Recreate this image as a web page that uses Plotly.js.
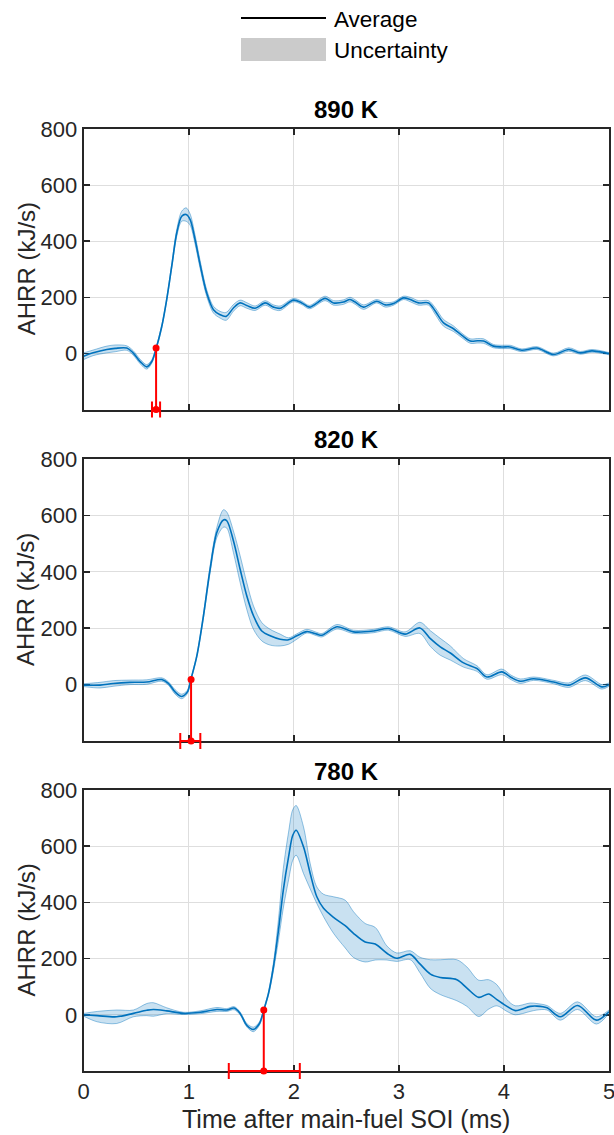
<!DOCTYPE html>
<html>
<head>
<meta charset="utf-8">
<script src="https://cdn.plot.ly/plotly-3.0.1.min.js"></script>
<style>
  html, body { margin: 0; padding: 0; background: #ffffff; }
  #chart { width: 614px; height: 1135px; }
</style>
</head>
<body>
<div id="chart"></div>
<script>
// Apparent heat-release rate (AHRR) after the main-fuel start of injection,
// averaged over repeated runs, at three ambient temperatures.

// ---- 890 K ----
const time890 = [0, 0.09, 0.22, 0.30, 0.41, 0.47, 0.54, 0.60, 0.648, 0.689, 0.743, 0.79, 0.838, 0.886, 0.933, 0.975, 1.013, 1.06, 1.108, 1.171, 1.235, 1.298, 1.356, 1.425, 1.489, 1.552, 1.632, 1.727, 1.806, 1.87, 1.997, 2.076, 2.149, 2.298, 2.378, 2.473, 2.535, 2.584, 2.663, 2.79, 2.87, 2.95, 3.044, 3.108, 3.187, 3.283, 3.346, 3.425, 3.52, 3.6, 3.68, 3.75, 3.806, 3.9, 3.98, 4.06, 4.17, 4.314, 4.473, 4.616, 4.727, 4.838, 5.0];
const avg890 = [-10, 2, 14, 18, 19, 2, -30, -48, -29, 17, 96, 192, 311, 430, 489, 495, 477, 406, 317, 215, 156, 138, 132, 162, 180, 171, 161, 180, 165, 161, 190, 180, 165, 196, 180, 183, 192, 183, 165, 186, 173, 178, 198, 192, 180, 180, 151, 109, 88, 64, 44, 45, 44, 26, 23, 23, 11, 19, -4, 14, 2, 9, -1];
const hi890 = [2, 12, 26, 30, 27, 10, -22, -40, -23, 22, 101, 198, 319, 442, 507, 519, 497, 422, 331, 227, 168, 150, 146, 174, 190, 181, 169, 188, 173, 169, 196, 186, 171, 204, 188, 191, 200, 191, 173, 192, 181, 184, 204, 200, 188, 188, 163, 121, 98, 72, 52, 53, 52, 32, 29, 29, 16, 24, 1, 20, 7, 14, 3];
const lo890 = [-22, -8, 2, 6, 11, -6, -38, -56, -35, 12, 91, 186, 303, 418, 471, 471, 457, 390, 303, 203, 144, 126, 118, 150, 170, 161, 153, 172, 157, 153, 184, 174, 159, 188, 172, 175, 184, 175, 157, 180, 165, 172, 192, 184, 172, 172, 139, 97, 78, 56, 36, 37, 36, 20, 17, 17, 6, 14, -9, 8, -3, 4, -5];

// ---- 820 K ----
const time820 = [0, 0.156, 0.28, 0.44, 0.6, 0.743, 0.806, 0.87, 0.933, 0.987, 1.019, 1.076, 1.14, 1.203, 1.267, 1.33, 1.362, 1.425, 1.489, 1.552, 1.616, 1.695, 1.775, 1.87, 1.95, 2.029, 2.124, 2.219, 2.267, 2.41, 2.568, 2.76, 2.9, 3.06, 3.2, 3.3, 3.394, 3.49, 3.616, 3.743, 3.838, 3.98, 4.07, 4.156, 4.283, 4.473, 4.616, 4.775, 4.933, 5.0];
const avg820 = [-2, -2, 4, 8, 9, 18, 4, -26, -42, -26, 17, 100, 244, 409, 539, 584, 581, 510, 409, 315, 244, 190, 173, 161, 159, 173, 188, 179, 175, 205, 187, 190, 199, 179, 201, 163, 134, 112, 77, 57, 27, 45, 25, 12, 21, 9, -2, 24, -8, 0];
const hi820 = [3, 8, 14, 16, 17, 24, 10, -18, -34, -20, 21, 105, 252, 421, 557, 620, 612, 545, 457, 362, 279, 220, 196, 179, 166, 180, 196, 185, 181, 213, 193, 196, 205, 187, 221, 191, 164, 137, 92, 67, 35, 55, 33, 20, 27, 15, 6, 34, 0, 6];
const lo820 = [-7, -12, -6, 0, 1, 12, -2, -34, -50, -32, 13, 95, 236, 397, 521, 558, 555, 468, 362, 267, 196, 155, 140, 137, 143, 161, 183, 173, 169, 197, 181, 184, 193, 171, 181, 135, 104, 87, 62, 47, 19, 35, 17, 4, 15, 3, -10, 14, -16, -6];

// ---- 780 K ----
const time780 = [0, 0.13, 0.314, 0.473, 0.6, 0.663, 0.79, 0.95, 1.108, 1.267, 1.362, 1.432, 1.489, 1.552, 1.616, 1.673, 1.714, 1.759, 1.806, 1.854, 1.9, 1.95, 1.99, 2.022, 2.092, 2.156, 2.219, 2.283, 2.378, 2.489, 2.568, 2.679, 2.775, 2.886, 2.98, 3.108, 3.2, 3.3, 3.394, 3.552, 3.648, 3.76, 3.854, 3.933, 4.029, 4.108, 4.25, 4.314, 4.41, 4.536, 4.7, 4.88, 5.0];
const avg780 = [0, -3, -7, 5, 16, 19, 14, 5, 9, 19, 17, 24, 5, -37, -52, -31, 17, 76, 171, 301, 444, 562, 639, 657, 598, 503, 420, 379, 347, 317, 290, 259, 252, 219, 201, 215, 181, 145, 133, 125, 95, 62, 74, 54, 30, 15, 30, 31, 25, -7, 33, -19, 11];
const hi780 = [5, 12, 17, 17, 40, 43, 25, 9, 14, 26, 22, 29, 10, -31, -44, -25, 21, 82, 185, 340, 520, 650, 730, 745, 669, 538, 455, 429, 420, 408, 367, 325, 311, 245, 220, 228, 205, 196, 196, 196, 170, 123, 125, 107, 54, 32, 42, 40, 33, 5, 46, -7, 17];
const lo780 = [-5, -25, -31, -7, -3, -5, 4, 1, 4, 12, 12, 18, 0, -43, -60, -37, 13, 70, 157, 265, 380, 480, 550, 568, 503, 448, 396, 349, 290, 238, 204, 188, 195, 195, 190, 196, 150, 94, 72, 50, 30, -6, 20, 32, 12, 0, 12, 17, 17, -19, 19, -33, 5];

// Ignition: time, AHRR at ignition, and the time spread (min / max)
const panelTitles = ['890 K', '820 K', '780 K'];
const ignTime  = [0.689, 1.022, 1.714];
const ignValue = [19, 18, 17];
const ignLow   = [0.650, 0.919, 1.381];
const ignHigh  = [0.727, 1.110, 2.057];

const xTicks = [0, 1, 2, 3, 4, 5];
const yTicks = [0, 200, 400, 600, 800];
const xRange = [0, 5];
const yRange = [-200, 800];

const series = [
  { t: time890, avg: avg890, hi: hi890, lo: lo890 },
  { t: time820, avg: avg820, hi: hi820, lo: lo820 },
  { t: time780, avg: avg780, hi: hi780, lo: lo780 }
];

const FONT = 'Liberation Sans, Arial, Helvetica, sans-serif';
const AX = '#262626';
const BLUE = '#0072BD';
const EDGE = 'rgba(0,114,189,0.42)';
const FILL = 'rgba(0,114,189,0.21)';
const RED = '#ff0000';

const W = 614, H = 1135;
const xDomain = [83.7 / W, 609 / W];
// panel [top, bottom] in pixels
const panelPx = [[129, 409.5], [459, 741], [790, 1071]];

const traces = [];
const layout = {
  width: W, height: H,
  margin: { l: 0, r: 0, t: 0, b: 0 },
  paper_bgcolor: '#ffffff', plot_bgcolor: '#ffffff',
  showlegend: false,
  font: { family: FONT, color: AX },
  shapes: [], annotations: []
};

series.forEach((s, i) => {
  const n = i + 1;
  const xa = n === 1 ? 'x' : 'x' + n;
  const ya = n === 1 ? 'y' : 'y' + n;
  const line = { shape: 'spline', smoothing: 0.9 };
  const top = 1 - panelPx[i][0] / H, bot = 1 - panelPx[i][1] / H;

  traces.push({
    x: s.t, y: s.lo, xaxis: xa, yaxis: ya, type: 'scatter', mode: 'lines',
    line: Object.assign({ color: EDGE, width: 1 }, line), hoverinfo: 'skip'
  });
  traces.push({
    x: s.t, y: s.hi, xaxis: xa, yaxis: ya, type: 'scatter', mode: 'lines',
    fill: 'tonexty', fillcolor: FILL,
    line: Object.assign({ color: EDGE, width: 1 }, line), hoverinfo: 'skip'
  });
  traces.push({
    x: s.t, y: s.avg, xaxis: xa, yaxis: ya, type: 'scatter', mode: 'lines',
    line: Object.assign({ color: BLUE, width: 1.6 }, line)
  });

  // ignition marker: drop line from the curve to the bottom of the axes
  traces.push({
    x: [ignTime[i], ignTime[i]], y: [ignValue[i], yRange[0]],
    xaxis: xa, yaxis: ya, type: 'scatter', mode: 'lines+markers',
    line: { color: RED, width: 2 }, marker: { color: RED, size: 7 },
    cliponaxis: false
  });

  // ignition-time spread, drawn on the bottom edge of the axes
  layout.shapes.push({
    type: 'line', xref: xa, yref: 'paper', layer: 'above',
    x0: ignLow[i], x1: ignHigh[i], y0: bot, y1: bot,
    line: { color: RED, width: 2 }
  });
  [ignLow[i], ignHigh[i]].forEach(xv => {
    layout.shapes.push({
      type: 'line', xref: xa, yref: 'paper', layer: 'above',
      ysizemode: 'pixel', yanchor: bot, x0: xv, x1: xv, y0: -8, y1: 8,
      line: { color: RED, width: 2 }
    });
  });
  traces.push({
    x: [ignTime[i]], y: [yRange[0]], xaxis: xa, yaxis: ya,
    type: 'scatter', mode: 'markers', marker: { color: RED, size: 6 },
    cliponaxis: false
  });

  const axCommon = {
    showline: true, linecolor: AX, linewidth: 2, mirror: 'ticks',
    ticks: 'inside', ticklen: 6, tickwidth: 1.5, tickcolor: AX,
    showgrid: true, gridcolor: '#dedede', gridwidth: 1,
    zeroline: false, layer: 'below traces',
    tickfont: { family: FONT, size: 22, color: AX }
  };
  layout['xaxis' + (n === 1 ? '' : n)] = Object.assign({}, axCommon, {
    domain: xDomain, range: xRange, tickvals: xTicks, ticktext: xTicks.map(String),
    anchor: ya, showticklabels: n === 3, ticklabeloverflow: 'allow', fixedrange: true
  });
  layout['yaxis' + (n === 1 ? '' : n)] = Object.assign({}, axCommon, {
    domain: [bot, top], range: yRange, tickvals: yTicks, ticktext: yTicks.map(String),
    anchor: xa, ticklabeloverflow: 'allow', fixedrange: true
  });

  // panel title
  layout.annotations.push({
    text: '<b>' + panelTitles[i] + '</b>', xref: 'paper', yref: 'paper',
    x: (xDomain[0] + xDomain[1]) / 2, y: top + 19 / H,
    xanchor: 'center', yanchor: 'middle', showarrow: false,
    font: { family: FONT, size: 24, color: '#000000' }
  });
  // y-axis title
  layout.annotations.push({
    text: 'AHRR (kJ/s)', xref: 'paper', yref: 'paper',
    x: 26 / W, y: (top + bot) / 2, textangle: -90,
    xanchor: 'center', yanchor: 'middle', showarrow: false,
    font: { family: FONT, size: 24, color: AX }
  });
});

// x-axis title under the bottom panel
layout.annotations.push({
  text: 'Time after main-fuel SOI (ms)', xref: 'paper', yref: 'paper',
  x: 346 / W, y: 1 - 1119 / H, xanchor: 'center', yanchor: 'middle',
  showarrow: false, font: { family: FONT, size: 25, color: AX }
});

// legend key
layout.shapes.push({
  type: 'line', xref: 'paper', yref: 'paper',
  x0: 241 / W, x1: 326 / W, y0: 1 - 18 / H, y1: 1 - 18 / H,
  line: { color: '#000000', width: 2 }
});
layout.shapes.push({
  type: 'rect', xref: 'paper', yref: 'paper',
  x0: 241 / W, x1: 326 / W, y0: 1 - 61 / H, y1: 1 - 38 / H,
  fillcolor: '#cbcbcb', line: { width: 0 }
});
layout.annotations.push({
  text: 'Average', xref: 'paper', yref: 'paper', x: 332 / W, y: 1 - 19 / H,
  xanchor: 'left', yanchor: 'middle', showarrow: false,
  font: { family: FONT, size: 22.5, color: '#000000' }
});
layout.annotations.push({
  text: 'Uncertainty', xref: 'paper', yref: 'paper', x: 332 / W, y: 1 - 50 / H,
  xanchor: 'left', yanchor: 'middle', showarrow: false,
  font: { family: FONT, size: 22.5, color: '#000000' }
});

Plotly.newPlot('chart', traces, layout, { staticPlot: true, displayModeBar: false });
</script>
</body>
</html>
